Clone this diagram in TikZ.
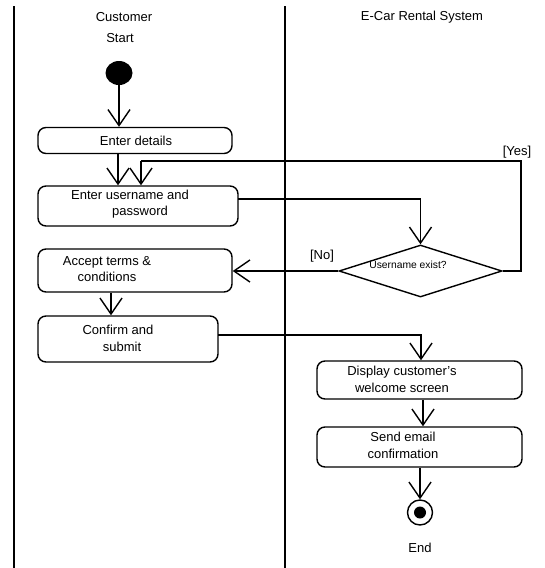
\documentclass[tikz,border=0pt]{standalone}
\usepackage{fontspec}
\setmainfont{Liberation Sans}
\usetikzlibrary{arrows.meta,shapes.geometric}
\begin{document}
\begin{tikzpicture}[x=1pt,y=-1pt,
  font=\fontsize{13}{16.5}\selectfont,
  flow/.style={draw, line width=1.4pt, -{Straight Barb[length=16pt,width=22pt,line width=1.4pt]}},
  wire/.style={draw, line width=1.4pt},
  act/.style={draw, line width=1.4pt, rounded corners=8pt, inner sep=0pt},
  txt/.style={inner sep=0pt, align=center},
  lbl/.style={inner sep=1pt}]
\useasboundingbox (0,0) rectangle (544,568);
% swimlane borders
\draw[line width=2.8pt] (14,6) -- (14,568);
\draw[line width=1.6pt] (285,6) -- (285,568);
\node[lbl] (laneC) at (124,17) {Customer};
\node[lbl] (laneS) at (422,17) {E-Car Rental System};
% start
\node[lbl] (startlbl) at (120,38) {Start};
\node[ellipse, fill=black, minimum width=27pt, minimum height=24pt, inner sep=0pt] (start) at (119,73) {};
% activities (box, then its text)
\node[act, minimum width=194pt, minimum height=26pt] (details) at (135,140.5) {};
\node[txt] (detailsT) at (136,141) {Enter details};
\node[act, minimum width=200pt, minimum height=40pt] (login) at (138,206) {};
\node[txt] (loginT) at (130,204) {Enter username and\\\hspace*{20pt}password};
\node[act, minimum width=194pt, minimum height=43pt] (terms) at (135,270.5) {};
\node[txt] (termsT) at (107,269) {Accept terms \&\\conditions};
\node[act, minimum width=180pt, minimum height=46pt] (confirm) at (128,339) {};
\node[txt] (confirmT) at (118,338.5) {Confirm and\\\hspace*{8pt}submit};
\node[draw, line width=1.4pt, diamond, aspect=3.2, minimum width=163pt, minimum height=52pt, inner sep=0pt] (exists) at (420.5,271) {};
\node[txt, font=\fontsize{10.3}{12}\selectfont] (existsT) at (408,265) {Username exist?};
\node[act, minimum width=205pt, minimum height=38pt] (welcome) at (419.5,380) {};
\node[txt] (welcomeT) at (402,379.5) {Display customer's\\welcome screen};
\node[act, minimum width=205pt, minimum height=40pt] (email) at (419.5,447) {};
\node[txt] (emailT) at (403,445.5) {Send email\\confirmation};
% end
\node[circle, draw, line width=1.4pt, minimum size=25pt, inner sep=0pt] (finish) at (420,512.5) {};
\node[circle, fill=black, minimum size=12pt, inner sep=0pt] (finishdot) at (finish.center) {};
\node[lbl] (endlbl) at (420,548) {End};
% connectors
\coordinate (yesA) at (521,161);
\coordinate (yesB) at (141,161);
\coordinate (loginR) at (238,199);
\coordinate (confR) at (218,335);
\path[flow] (start) -- (details.north -| start);
\path[flow] (details.south -| 118,0) -- (login.north -| 118,0);
\path[flow] (loginR) -| (exists.north);
\path[wire] (exists.east) -| (yesA) -- (yesB);
\path[flow] (yesB) -- (login.north -| yesB);
\node[lbl, anchor=south] (yeslbl) at (517,159) {[Yes]};
\path[flow] (exists.west) -- (terms.east |- exists.west);
\node[lbl] (nolbl) at (322,256) {[No]};
\path[flow] (terms.south -| 111,0) -- (confirm.north -| 111,0);
\path[flow] (confR) -| (welcome.north -| 421,0);
\path[flow] (welcome.south -| 423,0) -- (email.north -| 423,0);
\path[flow] (email.south -| finish) -- (finish.north);
\end{tikzpicture}
\end{document}
